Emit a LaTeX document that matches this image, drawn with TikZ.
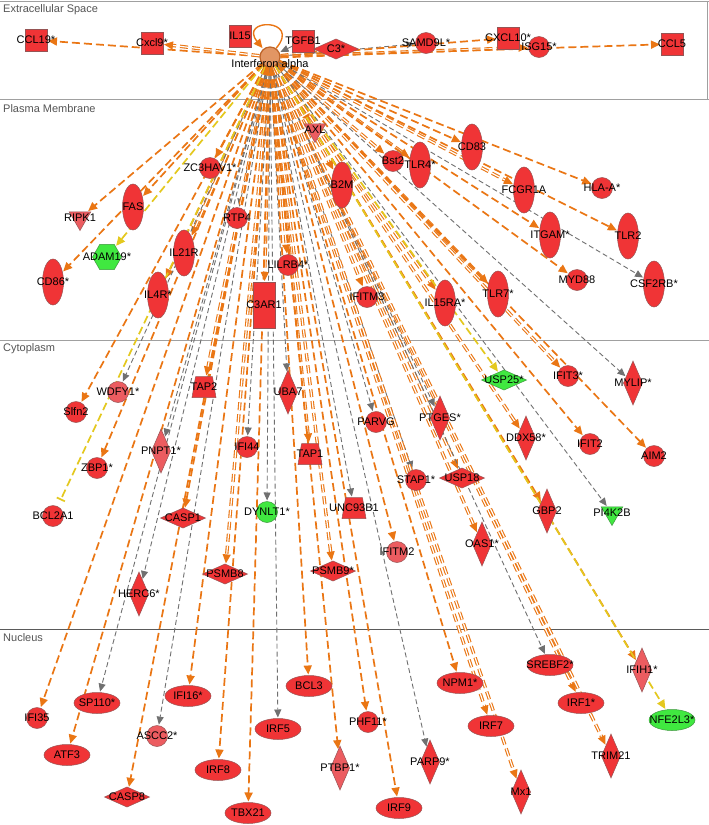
\documentclass[tikz,border=0pt]{standalone}
\usepackage{fontspec}
\setmainfont{Liberation Sans}
\usetikzlibrary{shapes.geometric,arrows.meta}
\definecolor{nred}{RGB}{240,52,54}
\definecolor{nlight}{RGB}{236,92,96}
\definecolor{nbord}{RGB}{150,84,84}
\definecolor{ngreen}{RGB}{64,232,64}
\definecolor{gbord}{RGB}{60,150,60}
\definecolor{eor}{RGB}{234,118,20}
\definecolor{egr}{RGB}{112,112,112}
\definecolor{eye}{RGB}{228,200,30}
\definecolor{regl}{RGB}{160,160,160}
\definecolor{regn}{RGB}{90,90,90}
\definecolor{regt}{RGB}{85,85,85}
\definecolor{hubf}{RGB}{226,150,100}
\definecolor{hubb}{RGB}{190,100,40}
\pgfdeclarelayer{edges}
\pgfdeclarelayer{bg}
\pgfsetlayers{bg,edges,main}
\tikzset{
 lb/.style={font=\fontsize{11}{12}\selectfont, inner sep=0pt, text=black},
 reg/.style={anchor=west, font=\fontsize{11}{13}\selectfont, text=regt, inner sep=0pt},
 gn/.style={draw=nbord, fill=nred, line width=0.5pt, inner sep=0pt, outer sep=0pt},
 lt/.style={fill=nlight},
 gr/.style={fill=ngreen, draw=gbord},
 sq/.style={gn, rectangle, minimum size=22pt},
 rtall/.style={gn, rectangle, minimum width=22pt, minimum height=46pt},
 cir/.style={gn, circle, minimum size=21pt},
 vel/.style={gn, ellipse, minimum width=21pt, minimum height=46pt},
 hel/.style={gn, ellipse, minimum width=46pt, minimum height=21pt},
 vdi/.style={gn, diamond, minimum width=19pt, minimum height=44pt},
 hdi/.style={gn, diamond, minimum width=45pt, minimum height=20pt},
 tri/.style={gn, regular polygon, regular polygon sides=3, shape border rotate=180, minimum size=25pt},
 trap/.style={gn, trapezium, trapezium left angle=78, trapezium right angle=78, trapezium stretches=true, inner xsep=5pt, inner ysep=5pt, minimum width=24pt, minimum height=21pt},
 hexa/.style={gn, regular polygon, regular polygon sides=6, minimum size=29pt},
 eo/.style={draw=eor, line width=1.7pt, dash pattern=on 8pt off 4pt, -{Triangle[length=9pt,width=8pt]}, shorten >=1pt},
 eg/.style={draw=egr, line width=0.9pt, dash pattern=on 5pt off 3pt, -{Triangle[length=8pt,width=7pt]}, shorten >=1pt},
 ey/.style={draw=eye, line width=1.7pt, dash pattern=on 8pt off 4pt, -{Triangle[length=9pt,width=8pt]}, shorten >=1pt},
 dbl/.style={double=white, double distance=1.2pt, line width=1.1pt}
}
\newcommand\gnd[4]{\node[#1,label={[lb]center:#4}] (#2) at (#3) {};}
\begin{document}
\begin{tikzpicture}[x=1pt,y=-1pt]
\useasboundingbox (0,0) rectangle (709,825);
\begin{pgfonlayer}{bg}
\fill[white] (0,0) rectangle (709,825);
\draw[regl, line width=1pt] (0,1) -- (709,1);
\draw[regl, line width=1pt] (707,1) -- (707,99);
\draw[regl, line width=1pt] (0,99) -- (709,99);
\draw[regl, line width=1pt] (0,340) -- (709,340);
\draw[regn, line width=0.8pt] (0,629) -- (709,629);
\node[reg] (tExt) at (3,10) {Extracellular Space};
\node[reg] (tPM) at (3,109) {Plasma Membrane};
\node[reg] (tCy) at (3,349) {Cytoplasm};
\node[reg] (tNu) at (3,638) {Nucleus};
\end{pgfonlayer}

% hub
\node[circle, minimum size=20pt, inner sep=0pt, fill=hubf, draw=hubb, line width=1.2pt,
  label={[lb,yshift=-8pt]center:Interferon alpha}] (hub) at (270,57) {};

% Extracellular
\gnd{sq}{CCL19}{36,40}{CCL19*}
\gnd{sq}{Cxcl9}{152,43}{Cxcl9*}
\gnd{sq}{IL15}{240,36}{IL15}
\gnd{sq}{TGFB1}{303,41}{TGFB1}
\gnd{hdi}{C3}{336,49}{C3*}
\gnd{cir}{SAMD9L}{426,43}{SAMD9L*}
\gnd{sq}{CXCL10}{508,38}{CXCL10*}
\gnd{cir}{ISG15}{539,47}{ISG15*}
\gnd{sq}{CCL5}{672,44}{CCL5}

% Plasma membrane
\gnd{tri,lt}{RIPK1}{80,218}{RIPK1}
\gnd{vel}{FAS}{133,207}{FAS}
\gnd{cir}{ZC3HAV1}{210,168}{ZC3HAV1*}
\gnd{tri,lt}{AXL}{315,130}{AXL}
\gnd{vel}{B2M}{342,185}{B2M}
\gnd{cir}{Bst2}{393,161}{Bst2}
\gnd{vel}{TLR4}{420,165}{TLR4*}
\gnd{vel}{CD83}{472,147}{CD83}
\gnd{vel}{FCGR1A}{524,190}{FCGR1A}
\gnd{cir}{HLAA}{602,188}{HLA-A*}
\gnd{vel}{ITGAM}{550,235}{ITGAM*}
\gnd{vel}{TLR2}{628,236}{TLR2}
\gnd{cir}{MYD88}{577,280}{MYD88}
\gnd{vel}{CSF2RB}{654,284}{CSF2RB*}
\gnd{vel}{TLR7}{498,294}{TLR7*}
\gnd{vel}{IL15RA}{445,303}{IL15RA*}
\gnd{cir}{IFITM3}{367,297}{IFITM3}
\gnd{rtall}{C3AR1}{264,305}{C3AR1}
\gnd{cir}{LILRB4}{288,265}{LILRB4*}
\gnd{cir}{RTP4}{237,218}{RTP4}
\gnd{vel}{IL21R}{184,253}{IL21R}
\gnd{vel}{IL4R}{158,295}{IL4R*}
\gnd{hexa,gr}{ADAM19}{107,257}{ADAM19*}
\gnd{vel}{CD86}{53,282}{CD86*}

% Cytoplasm
\gnd{cir,lt}{WDFY1}{118,392}{WDFY1*}
\gnd{cir}{Slfn2}{76,412}{Slfn2}
\gnd{cir}{ZBP1}{97,468}{ZBP1*}
\gnd{cir}{BCL2A1}{53,516}{BCL2A1}
\gnd{trap}{TAP2}{204,387}{TAP2}
\gnd{vdi,lt}{PNPT1}{161,451}{PNPT1*}
\gnd{cir}{IFI44}{247,447}{IFI44}
\gnd{vdi}{UBA7}{288,392}{UBA7}
\gnd{trap}{TAP1}{310,454}{TAP1}
\gnd{hdi}{CASP1}{183,518}{CASP1}
\gnd{cir,gr}{DYNLT1}{267,512}{DYNLT1*}
\gnd{trap}{UNC93B1}{354,508}{UNC93B1}
\gnd{hdi}{PSMB8}{225,574}{PSMB8}
\gnd{hdi}{PSMB9}{333,571}{PSMB9*}
\gnd{vdi}{HERC6}{139,594}{HERC6*}
\gnd{cir}{PARVG}{376,422}{PARVG}
\gnd{vdi}{PTGES}{440,418}{PTGES*}
\gnd{cir}{STAP1}{416,480}{STAP1*}
\gnd{hdi}{USP18}{462,478}{USP18}
\gnd{cir,lt}{IFITM2}{397,552}{IFITM2}
\gnd{vdi}{OAS1}{482,544}{OAS1*}
\gnd{hdi,gr}{USP25}{504,380}{USP25*}
\gnd{cir}{IFIT3}{568,376}{IFIT3*}
\gnd{vdi}{MYLIP}{633,383}{MYLIP*}
\gnd{vdi}{DDX58}{526,438}{DDX58*}
\gnd{cir}{IFIT2}{590,444}{IFIT2}
\gnd{cir}{AIM2}{654,456}{AIM2}
\gnd{vdi}{GBP2}{547,511}{GBP2}
\gnd{tri,gr}{PI4K2B}{612,513}{PI4K2B}

% Nucleus
\gnd{cir}{IFI35}{37,718}{IFI35}
\gnd{hel}{SP110}{97,703}{SP110*}
\gnd{hel}{ATF3}{67,755}{ATF3}
\gnd{cir,lt}{ASCC2}{157,736}{ASCC2*}
\gnd{hel}{IFI16}{188,696}{IFI16*}
\gnd{hdi}{CASP8}{127,797}{CASP8}
\gnd{hel}{IRF8}{218,770}{IRF8}
\gnd{hel}{TBX21}{248,813}{TBX21}
\gnd{hel}{IRF5}{278,729}{IRF5}
\gnd{hel}{BCL3}{309,686}{BCL3}
\gnd{vdi,lt}{PTBP1}{340,768}{PTBP1*}
\gnd{cir}{PHF11}{368,722}{PHF11*}
\gnd{hel}{IRF9}{399,808}{IRF9}
\gnd{vdi}{PARP9}{430,762}{PARP9*}
\gnd{hel}{NPM1}{460,683}{NPM1*}
\gnd{hel}{IRF7}{491,726}{IRF7}
\gnd{vdi}{Mx1}{521,792}{Mx1}
\gnd{hel}{SREBF2}{550,665}{SREBF2*}
\gnd{hel}{IRF1}{581,703}{IRF1*}
\gnd{vdi}{TRIM21}{611,756}{TRIM21}
\gnd{vdi,lt}{IFIH1}{642,670}{IFIH1*}
\gnd{hel,gr}{NFE2L3}{672,720}{NFE2L3*}

\begin{pgfonlayer}{edges}
% extracellular
\draw[eo] (hub) -- (CCL19);
\draw[eo,dbl] (hub) -- (Cxcl9);
\draw[eo,dbl] (hub) -- (C3);
\draw[eg] (hub) -- (SAMD9L);
\draw[eo] (hub) -- (CXCL10);
\draw[eo,dbl] (hub) -- (ISG15);
\draw[eo] (hub) -- (CCL5);
\draw[eg] (TGFB1) -- (hub);
\draw[eo, solid, line width=1.4pt] (hub.55) .. controls (302,18) and (238,18) .. (hub.130);
% plasma membrane
\draw[eo] (hub) -- (RIPK1);
\draw[eo] (hub) -- (FAS);
\draw[eo] (hub) -- (ZC3HAV1);
\draw[eo] (hub) -- (AXL);
\draw[eo,dbl] (hub) -- (B2M);
\draw[eo,dbl] (hub) -- (Bst2);
\draw[eo,dbl] (hub) -- (TLR4);
\draw[eo] (hub) -- (CD83);
\draw[eo,dbl] (hub) -- (FCGR1A);
\draw[eo] (hub) -- (HLAA);
\draw[eo] (hub) -- (ITGAM);
\draw[eo] (hub) -- (TLR2);
\draw[eo] (hub) -- (MYD88);
\draw[eg] (hub) -- (CSF2RB);
\draw[eo,dbl] (hub) -- (TLR7);
\draw[eo,dbl] (hub) -- (IL15RA);
\draw[eo,dbl] (hub) -- (IFITM3);
\draw[eo,dbl] (hub) -- (C3AR1);
\draw[eo,dbl] (hub) -- (LILRB4);
\draw[eg] (hub) -- (RTP4);
\draw[eo,dbl] (hub) -- (IL21R);
\draw[eo] (hub) -- (IL4R);
\draw[ey] (hub) -- (ADAM19);
\draw[eo] (hub) -- (CD86);
% cytoplasm
\draw[eg] (hub) -- (WDFY1);
\draw[eo] (hub) -- (Slfn2);
\draw[eo] (hub) -- (ZBP1);
\draw[ey, -{Bar[width=9pt]}, shorten >=7pt] (hub) -- (BCL2A1);
\draw[eo,dbl] (hub) -- (TAP2);
\draw[eg] (hub) -- (PNPT1);
\draw[eg] (hub) -- (IFI44);
\draw[eg] (hub) -- (UBA7);
\draw[eo,dbl] (hub) -- (TAP1);
\draw[eo] (hub) -- (CASP1);
\draw[eg] (hub) -- (DYNLT1);
\draw[eg] (hub) -- (UNC93B1);
\draw[eo,dbl] (hub) -- (PSMB8);
\draw[eo,dbl] (hub) -- (PSMB9);
\draw[eg] (hub) -- (HERC6);
\draw[eg] (hub) -- (PARVG);
\draw[eg] (hub) -- (PTGES);
\draw[eg] (hub) -- (STAP1);
\draw[eo,dbl] (hub) -- (USP18);
\draw[eo] (hub) -- (IFITM2);
\draw[eo,dbl] (hub) -- (OAS1);
\draw[ey] (hub) -- (USP25);
\draw[eo,dbl] (hub) -- (IFIT3);
\draw[eg] (hub) -- (MYLIP);
\draw[eo,dbl] (hub) -- (DDX58);
\draw[eo] (hub) -- (IFIT2);
\draw[eo] (hub) -- (AIM2);
\draw[eo] (hub) -- (GBP2);
\draw[eg] (hub) -- (PI4K2B);
% nucleus
\draw[eo] (hub) -- (IFI35);
\draw[eg] (hub) -- (SP110);
\draw[eo] (hub) -- (ATF3);
\draw[eg] (hub) -- (ASCC2);
\draw[eo] (hub) -- (IFI16);
\draw[eo] (hub) -- (CASP8);
\draw[eo] (hub) -- (IRF8);
\draw[eo] (hub) -- (TBX21);
\draw[eg] (hub) -- (IRF5);
\draw[eo] (hub) -- (BCL3);
\draw[eo] (hub) -- (PTBP1);
\draw[eo] (hub) -- (PHF11);
\draw[eo] (hub) -- (IRF9);
\draw[eg] (hub) -- (PARP9);
\draw[eo] (hub) -- (NPM1);
\draw[eo,dbl] (hub) -- (IRF7);
\draw[eo,dbl] (hub) -- (Mx1);
\draw[eg] (hub) -- (SREBF2);
\draw[eo,dbl] (hub) -- (IRF1);
\draw[eo,dbl] (hub) -- (TRIM21);
\draw[eo] (hub) -- (IFIH1);
\draw[ey] (hub) -- (NFE2L3);
\end{pgfonlayer}
\end{tikzpicture}
\end{document}
